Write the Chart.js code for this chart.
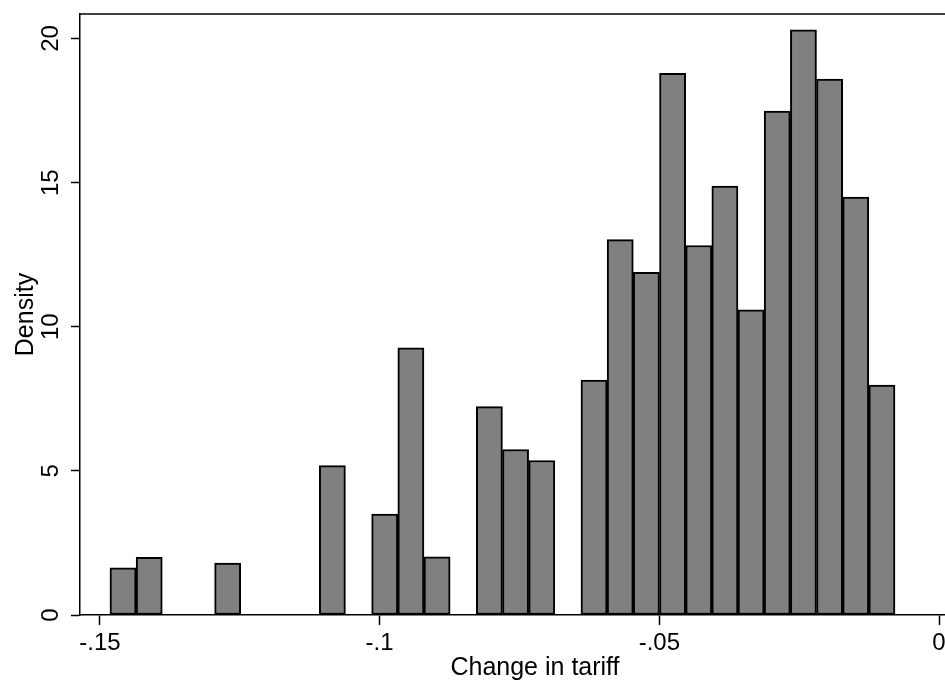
<!DOCTYPE html>
<html><head><meta charset="utf-8">
<script src="https://cdn.jsdelivr.net/npm/chart.js@4/dist/chart.umd.min.js"></script>
<style>html,body{margin:0;padding:0;background:#fff;overflow:hidden;width:945px;height:685px}</style>
</head><body>
<canvas id="c" width="1000" height="685" style="display:block;width:1000px;height:685px"></canvas>
<script>
// Histogram bins (bin centres) of "Change in tariff" and their densities
const binCenters = [-0.14587, -0.14119, -0.12716, -0.10845, -0.09909, -0.09441, -0.08973,
  -0.08038, -0.07570, -0.07102, -0.06167, -0.05699, -0.05231, -0.04763, -0.04295,
  -0.03828, -0.03360, -0.02892, -0.02424, -0.01956, -0.01489, -0.01021];
const densities = [1.64, 2.00, 1.80, 5.18, 3.50, 9.27, 2.02,
  7.23, 5.74, 5.36, 8.15, 13.02, 11.89, 18.79, 12.82,
  14.88, 10.59, 17.48, 20.30, 18.59, 14.50, 7.98];
const xTickValues = [-0.15, -0.1, -0.05, 0];
const xTickLabels = ['-.15', '-.1', '-.05', '0'];
const yTickValues = [0, 5, 10, 15, 20];
const yTickLabels = ['0', '5', '10', '15', '20'];
const xTitle = 'Change in tariff';
const yTitle = 'Density';

const FONT = '"Liberation Sans", Arial, Helvetica, sans-serif';

const framePlugin = {
  id: 'frame',
  afterDraw(chart) {
    const ctx = chart.ctx, a = chart.chartArea;
    ctx.save();
    // top frame line
    ctx.strokeStyle = '#000';
    ctx.lineWidth = 1.5;
    ctx.beginPath();
    ctx.moveTo(a.left, a.top);
    ctx.lineTo(a.right, a.top);
    ctx.stroke();
    // rotated y tick labels
    const ys = chart.scales.y;
    ctx.fillStyle = '#000';
    ctx.font = '24px ' + FONT;
    ctx.textAlign = 'center';
    ctx.textBaseline = 'middle';
    yTickValues.forEach((v, i) => {
      const py = ys.getPixelForValue(v);
      ctx.save();
      ctx.translate(a.left - 29, py);
      ctx.rotate(-Math.PI / 2);
      ctx.fillText(yTickLabels[i], 0, 0);
      ctx.restore();
    });
    ctx.restore();
  }
};

new Chart(document.getElementById('c'), {
  type: 'bar',
  data: {
    datasets: [{
      data: binCenters.map((x, i) => ({ x: x, y: densities[i] })),
      backgroundColor: '#808080',
      borderColor: '#000',
      borderWidth: 2,
      borderSkipped: false,
      barPercentage: 1,
      categoryPercentage: 1
    }]
  },
  options: {
    responsive: false,
    animation: false,
    devicePixelRatio: 1,
    layout: { padding: { left: 0, top: 14, right: 10, bottom: 0 } },
    plugins: { legend: { display: false }, tooltip: { enabled: false } },
    scales: {
      x: {
        type: 'linear',
        offset: false,
        min: -0.15356,
        max: 0.00911,
        afterFit: s => { s.height = 70; },
        afterBuildTicks: s => { s.ticks = xTickValues.map(v => ({ value: v })); },
        ticks: {
          autoSkip: false,
          maxRotation: 0,
          padding: 4,
          color: '#000',
          font: { family: FONT, size: 24 },
          callback: (v) => xTickLabels[xTickValues.indexOf(v)]
        },
        grid: { display: true, offset: false, drawOnChartArea: false, drawTicks: true, tickLength: 10, tickColor: '#000', tickWidth: 1.5 },
        border: { display: true, color: '#000', width: 1.5 },
        title: { display: true, text: xTitle, color: '#000', font: { family: FONT, size: 25 }, padding: { top: 0, bottom: 2 } }
      },
      y: {
        min: 0,
        max: 20.85,
        afterFit: s => { s.width = 80; },
        afterBuildTicks: s => { s.ticks = yTickValues.map(v => ({ value: v })); },
        ticks: { display: false },
        grid: { display: true, offset: false, drawOnChartArea: false, drawTicks: true, tickLength: 9, tickColor: '#000', tickWidth: 1.5 },
        border: { display: true, color: '#000', width: 1.5 },
        title: { display: true, text: yTitle, color: '#000', font: { family: FONT, size: 25 }, padding: { top: 11, bottom: 0 } }
      }
    }
  },
  plugins: [framePlugin]
});
</script>
</body></html>
